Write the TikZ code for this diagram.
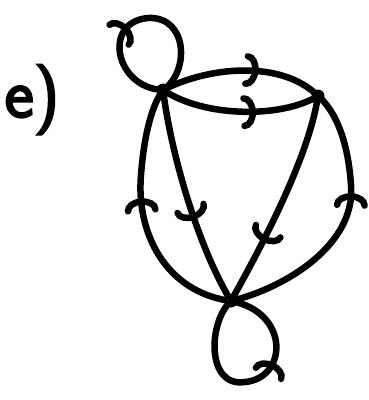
\documentclass[tikz,border=0pt]{standalone}
\usepackage{fontspec}
\newfontfamily\labfont[FakeBold=3]{Latin Modern Sans}
\usetikzlibrary{arrows.meta,decorations.markings}
\tikzset{
  x=1pt, y=-1pt,
  vtx/.style={circle, fill=black, inner sep=0pt, minimum size=13pt},
  edge/.style={line width=6.5pt, line cap=round, line join=round},
  tipat/.style={postaction={decorate, decoration={markings,
     mark=at position #1 with {\arrow{Arc Barb[width=34pt,length=12pt,line width=6.5pt,line cap=round]}}}}},
}
\begin{document}
\begin{tikzpicture}
\path[use as bounding box] (0,0) rectangle (368,400);
\node[vtx] (A) at (163,90) {};
\node[vtx] (B) at (318,96) {};
\node[vtx] (C) at (231,301) {};
\node[anchor=base, inner sep=0pt, font=\labfont\fontsize{70}{70}\selectfont] (lab) at (32,117) {e)};
% A -> B upper and lower
\draw[edge, tipat=0.6] (A.center) .. controls (210,66) and (282,60) .. (B.center);
\draw[edge, tipat=0.6] (A.center) .. controls (205,118) and (282,118) .. (B.center);
% A -> C straight
\draw[edge, tipat=0.6] (A.center) .. controls (172,160) and (200,250) .. (C.center);
% C -> A left curve
\draw[edge, tipat=0.57] (C.center) .. controls (165,292) and (136,232) .. (141,175) .. controls (144,135) and (152,105) .. (A.center);
% B -> C straight
\draw[edge, tipat=0.7] (B.center) .. controls (310,150) and (272,228) .. (C.center);
% C -> B right curve
\draw[edge, tipat=0.62] (C.center) .. controls (285,288) and (356,245) .. (351,185) .. controls (348,140) and (335,110) .. (B.center);
% loop at A
\draw[edge, tipat=0.43] (A.center) .. controls (115,88) and (102,22) .. (148,18) .. controls (188,16) and (190,72) .. (A.center);
% loop at C
\draw[edge, tipat=0.62] (C.center) .. controls (208,322) and (206,388) .. (245,382) .. controls (288,378) and (290,312) .. (C.center);
\end{tikzpicture}
\end{document}
